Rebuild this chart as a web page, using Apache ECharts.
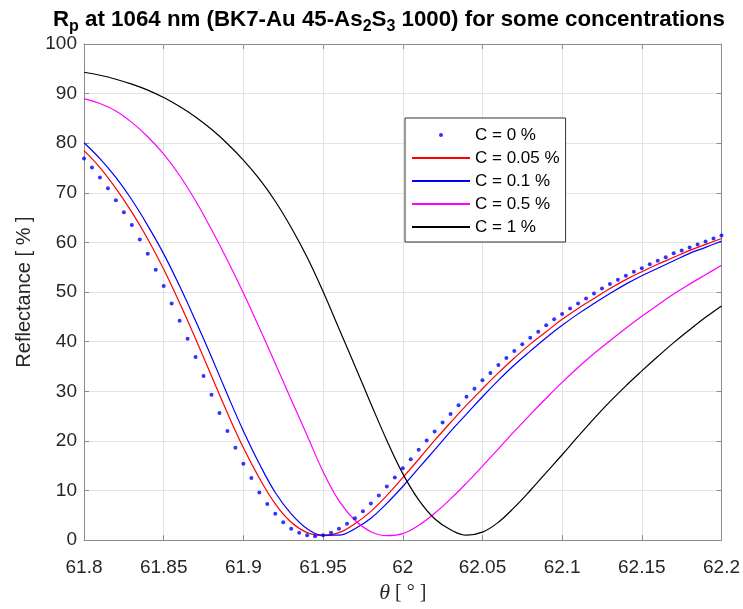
<!DOCTYPE html>
<html>
<head>
<meta charset="utf-8">
<script src="https://cdn.jsdelivr.net/npm/echarts@6/dist/echarts.min.js"></script>
<style>
  html, body { margin: 0; padding: 0; background: #fff; }
  #chart { width: 743px; height: 609px; }
</style>
</head>
<body>
<div id="chart"></div>
<script>
// angle samples (deg)
const thetaDots = [61.8, 61.805, 61.81, 61.815, 61.82, 61.825, 61.83, 61.835, 61.84, 61.845,
  61.85, 61.855, 61.86, 61.865, 61.87, 61.875, 61.88, 61.885, 61.89, 61.895,
  61.9, 61.905, 61.91, 61.915, 61.92, 61.925, 61.93, 61.935, 61.94, 61.945,
  61.95, 61.955, 61.96, 61.965, 61.97, 61.975, 61.98, 61.985, 61.99, 61.995,
  62, 62.005, 62.01, 62.015, 62.02, 62.025, 62.03, 62.035, 62.04, 62.045,
  62.05, 62.055, 62.06, 62.065, 62.07, 62.075, 62.08, 62.085, 62.09, 62.095,
  62.1, 62.105, 62.11, 62.115, 62.12, 62.125, 62.13, 62.135, 62.14, 62.145,
  62.15, 62.155, 62.16, 62.165, 62.17, 62.175, 62.18, 62.185, 62.19, 62.195, 62.2];
const thetaLines = [61.8, 61.81, 61.82, 61.83, 61.84, 61.85, 61.86, 61.87, 61.88, 61.89,
  61.9, 61.91, 61.92, 61.93, 61.94, 61.95, 61.96, 61.97, 61.98, 61.99,
  62, 62.01, 62.02, 62.03, 62.04, 62.05, 62.06, 62.07, 62.08, 62.09,
  62.1, 62.11, 62.12, 62.13, 62.14, 62.15, 62.16, 62.17, 62.18, 62.19, 62.2];

// reflectance [%]
const rC0 = [76.9, 75.1, 73.1, 70.9, 68.5, 66.1, 63.5, 60.6, 57.7, 54.5,
  51.2, 47.7, 44.2, 40.6, 36.9, 33.1, 29.3, 25.6, 22.0, 18.6,
  15.4, 12.5, 9.6, 7.3, 5.3, 3.6, 2.3, 1.5, 1.0, 0.8,
  1.0, 1.5, 2.3, 3.3, 4.4, 5.8, 7.4, 9.0, 10.8, 12.6,
  14.5, 16.3, 18.2, 20.1, 21.9, 23.7, 25.4, 27.2, 28.9, 30.5,
  32.2, 33.7, 35.3, 36.7, 38.1, 39.5, 40.8, 42.0, 43.3, 44.5,
  45.6, 46.7, 47.7, 48.7, 49.7, 50.7, 51.6, 52.5, 53.3, 54.1,
  54.8, 55.6, 56.3, 57.0, 57.8, 58.4, 59.0, 59.6, 60.2, 60.8, 61.4];
const rC005 = [78.5, 75.1, 70.9, 66.1, 60.7, 54.6, 47.8, 40.6, 33.1, 25.6,
  18.6, 12.5, 7.3, 3.6, 1.5, 0.9, 1.5, 3.3, 5.8, 9.0,
  12.6, 16.3, 20.1, 23.7, 27.2, 30.5, 33.7, 36.7, 39.5, 42.0,
  44.5, 46.7, 48.7, 50.7, 52.5, 54.1, 55.6, 57.0, 58.4, 59.6, 60.8];
const rC01 = [80.1, 76.9, 73.1, 68.6, 63.4, 57.7, 51.2, 44.2, 36.9, 29.3,
  22.0, 15.4, 9.6, 5.3, 2.3, 1.0, 1.0, 2.3, 4.4, 7.4,
  10.8, 14.5, 18.2, 21.9, 25.4, 28.9, 32.2, 35.3, 38.1, 40.8,
  43.3, 45.6, 47.7, 49.7, 51.6, 53.3, 54.8, 56.3, 57.8, 59.0, 60.3];
const rC05 = [89.0, 88.0, 86.5, 84.2, 81.3, 77.8, 73.5, 68.4, 62.6, 56.4,
  49.8, 42.8, 35.6, 28.3, 21.1, 13.8, 7.9, 4.0, 1.7, 0.9,
  1.3, 3.0, 5.4, 8.3, 11.5, 14.9, 18.4, 21.9, 25.3, 28.6,
  31.8, 34.8, 37.6, 40.2, 42.7, 45.1, 47.4, 49.6, 51.6, 53.5, 55.4];
const rC1 = [94.3, 93.7, 92.9, 91.9, 90.7, 89.2, 87.4, 85.3, 82.8, 79.9,
  76.6, 72.8, 68.3, 63.0, 57.0, 50.1, 42.6, 35.1, 27.5, 20.1,
  13.4, 8.1, 4.3, 2.1, 1.0, 1.6, 3.6, 6.6, 10.0, 13.6,
  17.2, 20.9, 24.5, 27.9, 31.1, 34.1, 37.0, 39.8, 42.4, 44.9, 47.2];

const names = ['C = 0 %', 'C = 0.05 %', 'C = 0.1 %', 'C = 0.5 %', 'C = 1 %'];
const colors = ['#0000ff', '#ff0000', '#0000ff', '#ff00ff', '#000000'];

function pairs(xs, ys) {
  return xs.map(function (x, i) { return [x, ys[i]]; });
}

const chart = echarts.init(document.getElementById('chart'), null, { renderer: 'canvas' });

const axisColor = '#8c8c8c';
const labelColor = '#262626';
const gridColor = '#e3e3e3';
const font = 'Liberation Sans, Arial, sans-serif';

function lineSeries(name, color, ys) {
  return {
    name: name,
    type: 'line',
    data: pairs(thetaLines, ys),
    symbol: 'none',
    smooth: 0.4,
    color: color,
    lineStyle: { color: color, width: 1.2 },
    z: 3
  };
}

function boxAxis(extra) {
  return Object.assign({
    type: 'value',
    axisLine: { show: true, onZero: false, lineStyle: { color: axisColor, width: 1 } },
    axisTick: { show: true, inside: true, length: 5, lineStyle: { color: axisColor } },
    axisLabel: { show: false },
    splitLine: { show: false }
  }, extra);
}

const option = {
  animation: false,
  backgroundColor: '#fff',
  title: {
    text: '{b|R}{s|p}{b| at 1064 nm (BK7-Au 45-As}{s|2}{b|S}{s|3}{b| 1000) for some concentrations}',
    left: 48,
    top: 4,
    textStyle: {
      rich: {
        b: { fontFamily: font, fontSize: 22.3, fontWeight: 'bold', color: '#000', lineHeight: 22 },
        s: { fontFamily: font, fontSize: 16, fontWeight: 'bold', color: '#000', lineHeight: 14, padding: [14, 0, 0, 0] }
      }
    }
  },
  legend: {
    orient: 'vertical',
    left: 405,
    top: 118,
    padding: [8, 6, 6, 6],
    itemWidth: 58,
    itemHeight: 4,
    itemGap: 5,
    borderColor: '#333',
    borderWidth: 1,
    backgroundColor: '#fff',
    textStyle: { fontFamily: font, fontSize: 17, color: '#000', lineHeight: 18 },
    data: [
      { name: names[0] },
      { name: names[1], itemStyle: { opacity: 0 } },
      { name: names[2], itemStyle: { opacity: 0 } },
      { name: names[3], itemStyle: { opacity: 0 } },
      { name: names[4], itemStyle: { opacity: 0 } }
    ]
  },
  grid: { left: 84, right: 21, top: 44, bottom: 63 },
  xAxis: [{
    type: 'value',
    min: 61.8,
    max: 62.2,
    interval: 0.05,
    name: '{t|θ}{n| [ ° ]}',
    nameLocation: 'middle',
    nameGap: 38,
    nameTextStyle: {
      rich: {
        t: { fontFamily: 'Liberation Serif, serif', fontStyle: 'italic', fontSize: 22, color: labelColor },
        n: { fontFamily: 'Liberation Serif, serif', fontSize: 20, color: labelColor }
      }
    },
    axisLine: { show: true, onZero: false, lineStyle: { color: axisColor, width: 1 } },
    axisTick: { show: true, inside: true, length: 5, lineStyle: { color: axisColor } },
    axisLabel: { fontFamily: font, fontSize: 19, color: labelColor, margin: 18 },
    splitLine: { show: true, lineStyle: { color: gridColor, width: 1 } }
  }, boxAxis({ position: 'top', min: 61.8, max: 62.2, interval: 0.05 })],
  yAxis: [{
    type: 'value',
    min: 0,
    max: 100,
    interval: 10,
    name: 'Reflectance [ % ]',
    nameLocation: 'middle',
    nameGap: 50,
    nameTextStyle: { fontFamily: font, fontSize: 20, color: labelColor },
    axisLine: { show: true, onZero: false, lineStyle: { color: axisColor, width: 1 } },
    axisTick: { show: true, inside: true, length: 5, lineStyle: { color: axisColor } },
    axisLabel: { fontFamily: font, fontSize: 19, color: labelColor, margin: 7 },
    splitLine: { show: true, lineStyle: { color: gridColor, width: 1 } }
  }, boxAxis({ position: 'right', min: 0, max: 100, interval: 10 })],
  series: [
    {
      name: names[0],
      type: 'scatter',
      data: pairs(thetaDots, rC0),
      symbol: 'circle',
      symbolSize: 4,
      itemStyle: { color: colors[0] },
      z: 4
    },
    lineSeries(names[1], colors[1], rC005),
    lineSeries(names[2], colors[2], rC01),
    lineSeries(names[3], colors[3], rC05),
    lineSeries(names[4], colors[4], rC1)
  ]
};

chart.setOption(option);
</script>
</body>
</html>
